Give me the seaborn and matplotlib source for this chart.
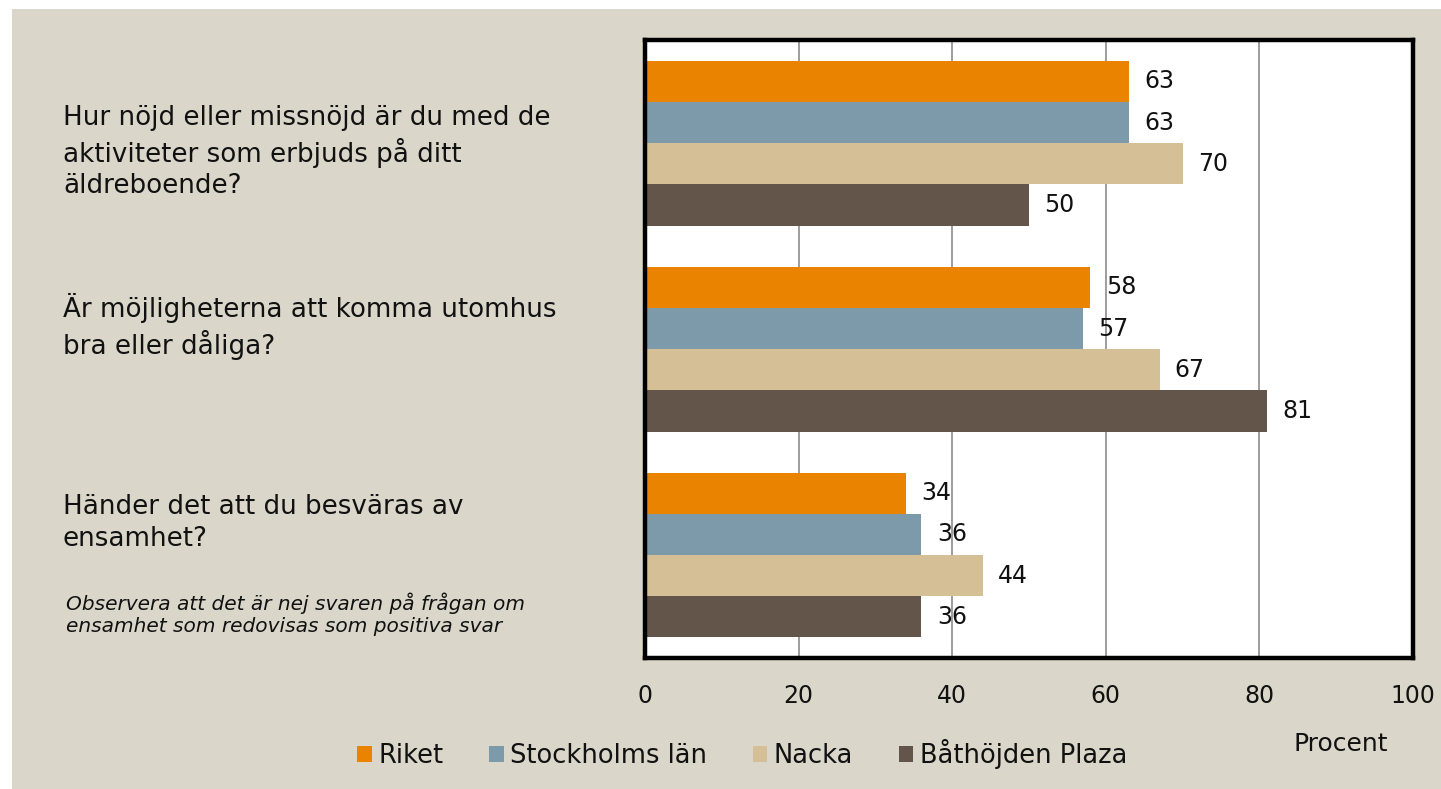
import pandas as pd
import matplotlib
matplotlib.use("Agg")
import matplotlib.pyplot as plt
from matplotlib.patches import Rectangle
import seaborn as sns

# Data
fragor = ["Q1", "Q2", "Q3"]
serier = ["Riket", "Stockholms län", "Nacka", "Båthöjden Plaza"]
riket = [63, 58, 34]
stockholm = [63, 57, 36]
nacka = [70, 67, 44]
bathojden = [50, 81, 36]
fragetexter = [
    "Hur nöjd eller missnöjd är du med de\naktiviteter som erbjuds på ditt\näldreboende?",
    "Är möjligheterna att komma utomhus\nbra eller dåliga?",
    "Händer det att du besväras av\nensamhet?",
]
notering = "Observera att det är nej svaren på frågan om\nensamhet som redovisas som positiva svar"
farger = ["#E98300", "#7D9AAB", "#D4BF96", "#63554A"]
bg = "#DAD7CA"

rows = []
for s, vals in zip(serier, [riket, stockholm, nacka, bathojden]):
    for f, v in zip(fragor, vals):
        rows.append({"fraga": f, "serie": s, "procent": v})
df = pd.DataFrame(rows)

sns.set_theme(style="white")
plt.rcParams['font.family'] = ['DejaVu Sans']

fig = plt.figure(figsize=(14.41, 7.89), dpi=100, facecolor="white")
fig.add_artist(Rectangle((12 / 1441, 0), 1, 1 - 9 / 789, transform=fig.transFigure,
                         facecolor=bg, edgecolor="none", zorder=0))
ax = fig.add_axes([0.4476, 0.166, 0.5330, 0.783])
ax.set_facecolor("white")

sns.barplot(data=df, y="fraga", x="procent", hue="serie", order=fragor,
            hue_order=serier, palette=farger, orient="h", width=0.8,
            saturation=1, linewidth=0, ax=ax, legend=True)

for c in ax.containers:
    ax.bar_label(c, fmt="%d", padding=11, fontsize=17, color="#111111")

ax.set_xlim(0, 100)
ax.set_xticks(range(0, 101, 20))
ax.xaxis.grid(True, color="#8c8c8c", linewidth=1.2)
ax.set_axisbelow(True)
ax.tick_params(axis="x", length=0, pad=19, labelsize=17, labelcolor="#111111")
ax.set_yticks([])
ax.set_ylabel("")
ax.set_xlabel("Procent", fontsize=18, color="#111111", va="center")
ax.xaxis.set_label_coords(0.906, -0.139)
for sp in ax.spines.values():
    sp.set_color("black")
    sp.set_linewidth(3.2)

# frågetexter
ypos = [0.807, 0.586, 0.337]
for t, y in zip(fragetexter, ypos):
    fig.text(0.0437, y, t, fontsize=18.8, color="#111111", va="center", ha="left",
             linespacing=1.28)
fig.text(0.046, 0.222, notering, fontsize=14.5, style="italic", color="#111111",
         va="center", ha="left", linespacing=1.2)

# legend
handles, labels = ax.get_legend_handles_labels()
ax.legend_.remove()
fig.legend(handles, labels, loc="center", bbox_to_anchor=(0.515, 0.044), ncol=4,
           frameon=False, fontsize=18.5, handlelength=0.57, handleheight=0.57,
           handletextpad=0.25, columnspacing=1.78, labelcolor="#111111")

fig.savefig("out.png", dpi=100, facecolor=fig.get_facecolor())
